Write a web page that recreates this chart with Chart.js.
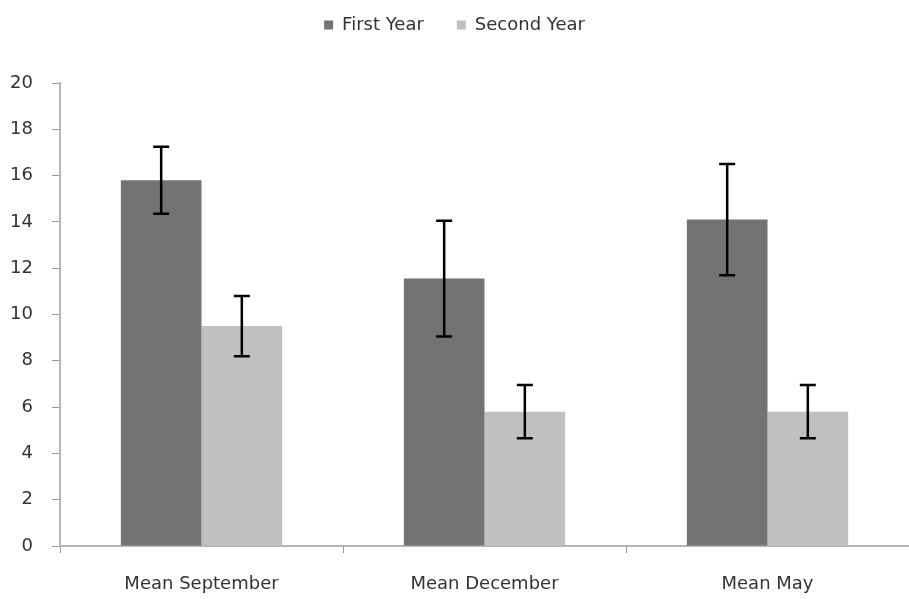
<!DOCTYPE html>
<html>
<head>
<meta charset="utf-8">
<script src="https://cdn.jsdelivr.net/npm/chart.js@4"></script>
<style>
  html, body { margin: 0; padding: 0; background: #fff; }
  #wrap { width: 909px; height: 599px; }
</style>
</head>
<body>
<div id="wrap"><canvas id="myChart" width="909" height="599"></canvas></div>
<script>
const categories = ["Mean September", "Mean December", "Mean May"];
const firstYear = [15.8, 11.55, 14.1];
const firstYearErr = [1.45, 2.5, 2.4];
const secondYear = [9.5, 5.8, 5.8];
const secondYearErr = [1.3, 1.15, 1.15];
const yTicks = [0, 2, 4, 6, 8, 10, 12, 14, 16, 18, 20];

const errors = [firstYearErr, secondYearErr];
const labelFont = { family: "DejaVu Sans", size: 18 };

// error bars drawn on top of the bars
const errorBars = {
  id: "errorBars",
  afterDatasetsDraw(chart) {
    const ctx = chart.ctx;
    const y = chart.scales.y;
    chart.data.datasets.forEach((ds, i) => {
      const meta = chart.getDatasetMeta(i);
      meta.data.forEach((bar, j) => {
        const v = ds.data[j];
        const e = errors[i][j];
        const top = y.getPixelForValue(v + e);
        const bot = y.getPixelForValue(v - e);
        ctx.save();
        ctx.strokeStyle = "#000";
        ctx.lineWidth = 2.5;
        ctx.beginPath();
        ctx.moveTo(bar.x, top);
        ctx.lineTo(bar.x, bot);
        ctx.moveTo(bar.x - 8, top);
        ctx.lineTo(bar.x + 8, top);
        ctx.moveTo(bar.x - 8, bot);
        ctx.lineTo(bar.x + 8, bot);
        ctx.stroke();
        ctx.restore();
      });
    });
  },
};

// extra room under the legend
const legendSpace = {
  id: "legendSpace",
  beforeInit(chart) {
    const fit = chart.legend.fit;
    chart.legend.fit = function () {
      fit.bind(chart.legend)();
      this.height += 39;
    };
  },
};

const data = {
  labels: categories,
  datasets: [
    {
      label: "First Year",
      data: firstYear,
      backgroundColor: "#737373",
      categoryPercentage: 0.57,
      barPercentage: 1.0,
    },
    {
      label: "Second Year",
      data: secondYear,
      backgroundColor: "#c0c0c0",
      categoryPercentage: 0.57,
      barPercentage: 1.0,
    },
  ],
};

const config = {
  type: "bar",
  data: data,
  plugins: [errorBars, legendSpace],
  options: {
    responsive: false,
    animation: false,
    layout: { padding: { left: 0, right: 0, top: -17, bottom: 0 } },
    plugins: {
      legend: {
        display: true,
        position: "top",
        labels: {
          boxWidth: 9,
          boxHeight: 9,
          padding: 33,
          color: "#333",
          font: labelFont,
        },
      },
      tooltip: { enabled: false },
    },
    scales: {
      x: {
        grid: {
          display: true,
          offset: true,
          drawOnChartArea: false,
          drawTicks: true,
          tickLength: 7,
          color: "#999",
        },
        border: { display: true, color: "#b5b5b5", width: 2 },
        ticks: {
          padding: 21,
          color: "#333",
          font: labelFont,
        },
        afterFit: (scale) => { scale.height = 53; },
      },
      y: {
        min: 0,
        max: 20,
        afterBuildTicks: (scale) => {
          scale.ticks = yTicks.map((v) => ({ value: v }));
        },
        grid: {
          display: true,
          drawOnChartArea: false,
          drawTicks: true,
          tickLength: 8,
          color: "#999",
        },
        border: { display: true, color: "#b5b5b5", width: 2 },
        ticks: {
          padding: 19,
          color: "#333",
          font: labelFont,
        },
        afterFit: (scale) => { scale.width = 60; },
      },
    },
  },
};

new Chart(document.getElementById("myChart"), config);
</script>
</body>
</html>
